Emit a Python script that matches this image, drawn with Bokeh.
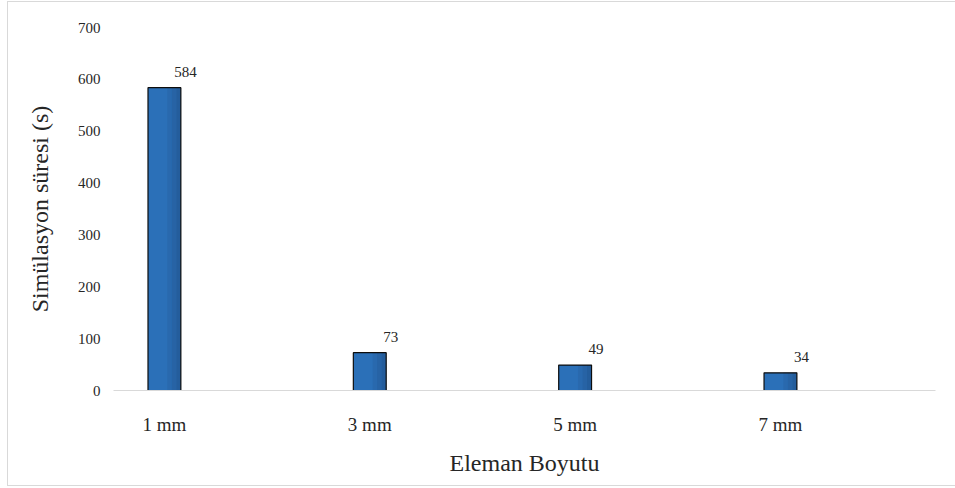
from bokeh.plotting import figure
from bokeh.models import ColumnDataSource, FixedTicker
from bokeh.transform import dodge
from bokeh.core.properties import value
from bokeh.embed import file_html
from bokeh.resources import INLINE

# Element size categories and simulation times (s)
sizes = ["1 mm", "3 mm", "5 mm", "7 mm"]
times = [584, 73, 49, 34]
y_ticks = [0, 100, 200, 300, 400, 500, 600, 700]

FONT = "Liberation Serif"
TEXT = "#262626"

pos = list(range(len(sizes)))
src = ColumnDataSource(dict(x=pos, time=times, label=[str(t) for t in times]))

p = figure(
    x_range=(-0.248, len(sizes) - 0.245), y_range=(0, 700),
    frame_width=822, frame_height=363,
    min_border_left=105, min_border_right=20,
    min_border_top=25, min_border_bottom=95,
    output_backend="svg", toolbar_location=None,
)
# thin light frame around the chart area (open on the right, past the window)
p.styles = {"margin-left": "7px", "margin-top": "1px",
            "border-left": "1px solid #d9d9d9",
            "border-top": "1px solid #d9d9d9",
            "border-bottom": "1px solid #d9d9d9"}
p.outline_line_color = None
p.xgrid.grid_line_color = None
p.ygrid.grid_line_color = None
p.background_fill_color = "white"
p.border_fill_color = "white"

# Bars: base fill, then darker strips toward the right edge for a shaded look
BW = 0.16
p.vbar(x="x", top="time", width=BW, source=src,
       fill_color="#2b70b8", line_color=None)
shades = ["#2864a6", "#245a96", "#1f4f85"]
SW = 0.022
for i, c in enumerate(shades):
    off = BW / 2 - SW / 2 - SW * (len(shades) - 1 - i)
    p.vbar(x=dodge("x", off), top="time", width=SW, source=src,
           fill_color=c, line_color=None, fill_alpha=0.55)
p.vbar(x="x", top="time", width=BW, source=src,
       fill_color=None, line_color="#0d0d0d", line_width=1.2)

# Value labels above each bar
p.text(x="x", y="time", text="label", source=src,
       x_offset=21, y_offset=-16,
       text_align="center", text_baseline="alphabetic",
       text_font=value(FONT), text_font_size="15px", text_color=TEXT)

# Y axis
ya = p.yaxis[0]
ya.ticker = FixedTicker(ticks=y_ticks)
ya.axis_line_color = None
ya.major_tick_line_color = None
ya.minor_tick_line_color = None
ya.major_tick_out = 0
ya.major_tick_in = 0
ya.major_label_standoff = 13
ya.major_label_text_font = FONT
ya.major_label_text_font_size = "15px"
ya.major_label_text_color = TEXT
ya.axis_label = "Simülasyon süresi (s)"
ya.axis_label_text_font = FONT
ya.axis_label_text_font_style = "normal"
ya.axis_label_text_font_size = "24px"
ya.axis_label_text_color = TEXT
ya.axis_label_standoff = 22

# X axis with category names at the bar positions
xa = p.xaxis[0]
xa.ticker = FixedTicker(ticks=pos)
xa.major_label_overrides = {i: s for i, s in zip(pos, sizes)}
xa.axis_line_color = "#d9d9d9"
xa.axis_line_width = 1.2
xa.major_tick_line_color = None
xa.minor_tick_line_color = None
xa.major_tick_out = 0
xa.major_tick_in = 0
xa.major_label_standoff = 23
xa.major_label_text_font = FONT
xa.major_label_text_font_size = "19px"
xa.major_label_text_color = TEXT
xa.axis_label = "Eleman Boyutu"
xa.axis_label_text_font = FONT
xa.axis_label_text_font_style = "normal"
xa.axis_label_text_font_size = "24px"
xa.axis_label_text_color = TEXT
xa.axis_label_standoff = 12

open("out.html", "w").write(file_html(p, INLINE))
